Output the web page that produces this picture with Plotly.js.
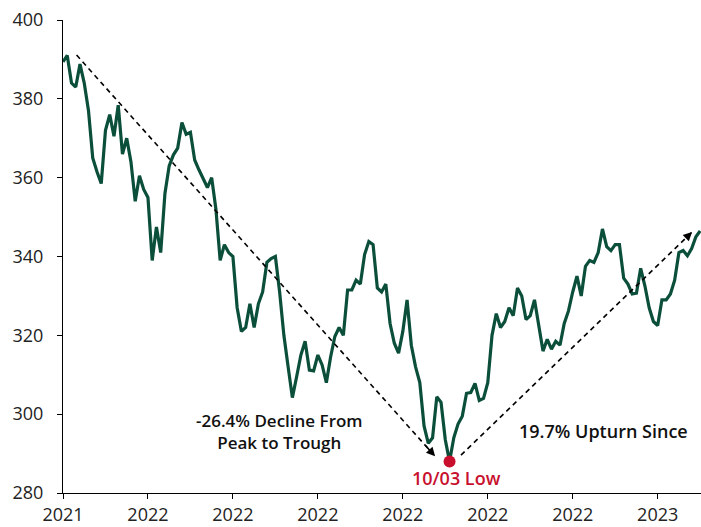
<!DOCTYPE html>
<html>
<head>
<meta charset="utf-8">
<script src="https://cdn.plot.ly/plotly-3.0.1.min.js"></script>
<style>html,body{margin:0;padding:0;background:#fff;}#chart{width:701px;height:527px;}</style>
</head>
<body>
<div id="chart"></div>
<script>
// Weekly index values (index 0..150)
const values = [
  389.4, 391.0, 384.0, 383.0, 388.8, 384.0, 377.0, 365.0, 361.5, 358.5,
  372.0, 376.0, 370.5, 378.4, 366.0, 370.0, 364.0, 354.0, 360.5, 357.0,
  355.0, 339.0, 347.5, 341.0, 356.0, 363.0, 365.8, 367.5, 374.0, 371.0,
  371.5, 364.5, 362.0, 359.5, 357.5, 360.0, 352.0, 339.0, 343.0, 341.0,
  340.0, 327.0, 321.0, 322.0, 328.0, 322.0, 328.0, 331.0, 338.5, 339.5,
  340.0, 331.0, 320.0, 312.0, 304.2, 309.5, 315.0, 318.5, 311.2, 311.0,
  315.0, 312.5, 308.0, 314.5, 319.7, 322.0, 320.0, 331.5, 331.5, 334.0,
  333.0, 340.5, 343.8, 343.0, 332.0, 331.0, 333.0, 323.0, 318.0, 315.5,
  321.0, 329.0, 317.5, 312.0, 308.0, 297.0, 292.6, 294.0, 304.4, 303.0,
  293.5, 288.0, 294.0, 297.5, 299.5, 305.3, 305.5, 307.8, 303.5, 304.0,
  308.0, 320.0, 325.5, 322.0, 323.5, 327.0, 325.0, 332.0, 330.0, 324.0,
  325.0, 329.0, 322.0, 316.0, 319.0, 316.5, 318.5, 317.5, 323.0, 326.2,
  331.0, 335.0, 330.0, 337.5, 339.0, 338.5, 341.0, 347.0, 342.5, 341.5,
  343.0, 343.0, 334.5, 333.0, 330.5, 330.7, 337.0, 332.5, 327.0, 323.5,
  322.5, 329.0, 329.0, 330.5, 334.0, 341.0, 341.5, 340.2, 342.0, 345.0,
  346.5
];
const tickIdx = [0, 20, 40, 60, 80, 100, 120, 140];
const tickLabels = ["2021", "2022", "2022", "2022", "2022", "2022", "2022", "2023"];
const yTicks = [280, 300, 320, 340, 360, 380, 400];

const lowIdx = 91;
const lowLabel = "10/03 Low";
const declineText = "-26.4% Decline From<br>Peak to Trough";
const upturnText = "19.7% Upturn Since";
// dashed trend arrows: [startIdx, startVal, endIdx, endVal]
const declineArrow = [3.2, 391.1, 87.6, 289.3];
const upturnArrow = [93.7, 289.6, 148.1, 346.2];

const xs = values.map((v, i) => i);
const green = "#0b4f3b";
const red = "#c8102e";
const font = "'Open Sans', 'DejaVu Sans', sans-serif";

function arrowParts(a) {
  const shape = {type: "line", xref: "x", yref: "y", x0: a[0], y0: a[1], x1: a[2], y1: a[3],
    line: {color: "#000", width: 1.6, dash: "5px,4px"}};
  const dx = a[2] - a[0], dy = a[3] - a[1];
  const f = 0.03;
  const head = {x: a[2], y: a[3], ax: a[2] - dx * f, ay: a[3] - dy * f, xref: "x", yref: "y",
    axref: "x", ayref: "y", text: "", showarrow: true, arrowhead: 2, arrowsize: 1.1,
    arrowwidth: 1.6, arrowcolor: "#000", standoff: 0};
  return [shape, head];
}
const d = arrowParts(declineArrow), u = arrowParts(upturnArrow);

const traces = [
  {x: xs, y: values, type: "scatter", mode: "lines", line: {color: green, width: 3.2}, hoverinfo: "skip"},
  {x: [lowIdx], y: [values[lowIdx]], type: "scatter", mode: "markers",
   marker: {color: red, size: 12}, hoverinfo: "skip"}
];

const tickFont = {size: 18, color: "#222", family: font};
const layout = {
  width: 701, height: 527,
  margin: {l: 63, r: 0, t: 20, b: 34},
  paper_bgcolor: "#fff", plot_bgcolor: "#fff",
  showlegend: false,
  font: {family: font, color: "#222", size: 17},
  xaxis: {range: [0, 150.2], tickmode: "array", tickvals: tickIdx, ticktext: tickLabels,
    showgrid: false, zeroline: false, showline: true, linecolor: "#000", linewidth: 1,
    ticks: "outside", ticklen: 5, tickcolor: "#000", tickfont: tickFont},
  yaxis: {range: [280, 400], tickmode: "array", tickvals: yTicks,
    showgrid: false, zeroline: false, showline: true, linecolor: "#000", linewidth: 1,
    ticks: "outside", ticklen: 5, tickcolor: "#000", tickfont: tickFont, ticklabelstandoff: 10},
  shapes: [d[0], u[0]],
  annotations: [
    d[1], u[1],
    {x: 50.9, y: 295.6, xref: "x", yref: "y", text: declineText, showarrow: false,
     font: {size: 17, color: "#111", family: font, weight: 600}, align: "center"},
    {x: 127.2, y: 295.8, xref: "x", yref: "y", text: upturnText, showarrow: false,
     font: {size: 18, color: "#111", family: font, weight: 600}},
    {x: lowIdx + 1.6, y: values[lowIdx] - 4.3, xref: "x", yref: "y", text: lowLabel, showarrow: false,
     font: {size: 18, color: red, family: font, weight: 600}}
  ]
};

Plotly.newPlot("chart", traces, layout, {staticPlot: true, displayModeBar: false});
</script>
</body>
</html>
